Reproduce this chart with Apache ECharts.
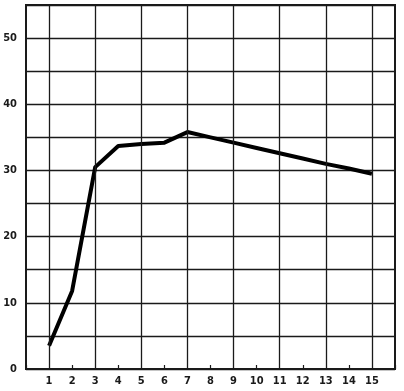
<!DOCTYPE html>
<html>
<head>
<meta charset="utf-8">
<script src="https://cdn.jsdelivr.net/npm/echarts@6/dist/echarts.min.js"></script>
<style>
  html, body { margin: 0; padding: 0; background: #fff; }
  #chart { width: 404px; height: 391px; }
</style>
</head>
<body>
<div id="chart"></div>
<script>
// data
const xValues = [1, 2, 3, 4, 5, 6, 7, 8, 9, 10, 11, 12, 13, 14, 15];
const yValues = [3.5, 11.8, 30.5, 33.7, 34, 34.2, 35.8, 35, 34.2, 33.4, 32.6, 31.8, 31, 30.3, 29.5];
// vertical grid lines sit on the odd numbers
const vLines = [1, 3, 5, 7, 9, 11, 13, 15];
const yLabels = [0, 10, 20, 30, 40, 50];

const ink = '#1a1a1a';
const font = '"DejaVu Sans Condensed", "DejaVu Sans", sans-serif';

var chart = echarts.init(document.getElementById('chart'));
chart.setOption({
    animation: false,
    grid: { left: 26, right: 9, top: 5, bottom: 22, show: true, borderColor: ink, borderWidth: 2 },
    xAxis: [{
        type: 'value', min: 0, max: 16, interval: 1,
        axisLine: { lineStyle: { color: ink, width: 2 } },
        axisTick: { show: false },
        splitLine: { show: false },
        axisLabel: {
            color: ink, fontFamily: font, fontSize: 11, fontWeight: 'bold', margin: 7,
            formatter: v => (v >= 1 && v <= 15) ? String(v) : ''
        }
    }, {
        // small inside ticks on the even numbers
        type: 'value', min: 0, max: 16, interval: 2, position: 'bottom',
        axisLine: { show: false },
        axisTick: { show: true, inside: true, length: 4, lineStyle: { color: ink, width: 1.2 } },
        axisLabel: { show: false },
        splitLine: { show: false }
    }],
    yAxis: {
        type: 'value', min: 0, max: 55, interval: 5,
        axisLine: { lineStyle: { color: ink, width: 2 } },
        axisTick: { show: false },
        splitLine: { lineStyle: { color: ink, width: 1.3 } },
        axisLabel: {
            color: ink, fontFamily: font, fontSize: 11, fontWeight: 'bold', margin: 9,
            formatter: v => yLabels.includes(v) ? String(v) : ''
        }
    },
    series: [{
        type: 'line',
        data: xValues.map((x, i) => [x, yValues[i]]),
        showSymbol: false,
        lineStyle: { color: '#000', width: 4, join: 'round' },
        markLine: {
            silent: true, symbol: 'none',
            label: { show: false },
            lineStyle: { color: ink, width: 1.3, type: 'solid' },
            data: vLines.map(v => ({ xAxis: v }))
        }
    }]
});
</script>
</body>
</html>
